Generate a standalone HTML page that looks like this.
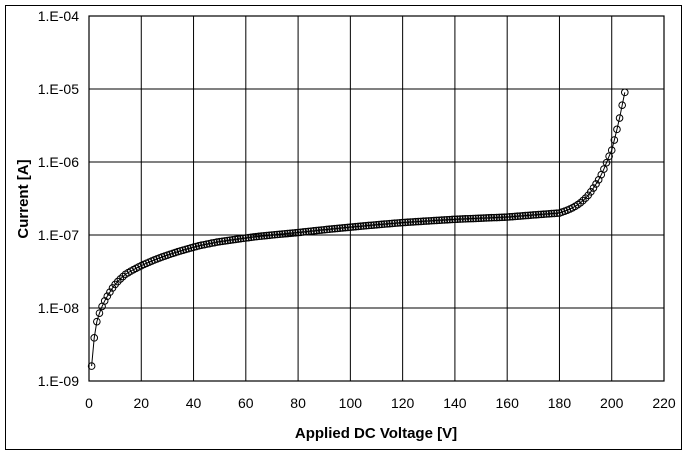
<!DOCTYPE html>
<html><head><meta charset="utf-8"><style>
body{margin:0;background:#fff;}
svg text{font-family:"Liberation Sans",sans-serif;}
</style></head><body>
<svg width="688" height="454">
<rect x="5.5" y="5.5" width="676" height="444" fill="#fff" stroke="#000" stroke-width="1"/>
<g id="grid"></g>
<g id="series"></g>
<rect x="89" y="16" width="575" height="365" fill="none" stroke="#000" stroke-width="1.2"/>
<g id="labels"></g>
<text x="376" y="438" font-size="15" font-weight="bold" text-anchor="middle">Applied DC Voltage [V]</text>
<text x="28" y="199" font-size="15" font-weight="bold" text-anchor="middle" transform="rotate(-90 28 199)">Current [A]</text>
</svg>
<script>
const xTicks=[0,20,40,60,80,100,120,140,160,180,200,220];
const yTickExp=[-4,-5,-6,-7,-8,-9];
const yTickLabels=["1.E-04","1.E-05","1.E-06","1.E-07","1.E-08","1.E-09"];
const voltageStart=1;
// current in nA, one point per volt starting at 1 V
const currentNA=[1.6,3.9,6.5,8.5,10.5,12.5,14.5,16.5,18.8,21,
23,25,27,29,30.5,32,33.5,35,36.5,38,
39.5,41,42.5,44,45.5,47,48.5,50,51.5,53,
54.5,56,57.5,59,60.5,62,63.5,65,66.5,68,
69.5,71,72.5,73.5,75,76,77.5,78.5,80,81,
82,83,84,85,86,87,88,89,90,91,
92,93,94,95,95.8,96.6,97.4,98.2,99,100,
100.8,101.6,102.4,103.2,104,104.8,105.6,106.4,107.2,108,
109,110,111,112,113,114,115,116,117,118,
119,120,121,122,123,124,125,126,127,128,
129,130,131,132,133,134,135,136,137,138,
139,140,141,142,143,144,145,146,147,148,
148.8,149.6,150.4,151.2,152,152.8,153.6,154.4,155.2,156,
156.8,157.6,158.4,159.2,160,160.8,161.6,162.4,163.2,164,
164.6,165.2,165.8,166.4,167,167.6,168.2,168.8,169.4,170,
170.6,171.2,171.8,172.4,173,173.6,174.2,174.8,175.4,176,
177.2,178.4,179.6,180.8,182,183.2,184.4,185.6,186.8,188,
189.2,190.4,191.6,192.8,194,195.2,196.4,197.6,198.8,200,
206,212,219,227,236,247,260,276,296,320,
350,390,440,500,570,670,800,980,1200,1450,
2000,2800,4000,6000,9000];
const NS="http://www.w3.org/2000/svg";
const X0=89,XW=575,XMAX=220,YT=16,YB=381;
function xs(v){return X0+v/XMAX*XW;}
function ys(e){return YT+(-4-e)/5*(YB-YT);}
function mk(t,a,p){const e=document.createElementNS(NS,t);for(const k in a)e.setAttribute(k,a[k]);p.appendChild(e);return e;}
const grid=document.getElementById('grid'),lab=document.getElementById('labels'),ser=document.getElementById('series');
xTicks.forEach(v=>{
 const l=mk('line',{x1:xs(v),x2:xs(v),y1:YT,y2:YB,stroke:'#000','stroke-width':1},grid);
 
 
 const t=mk('text',{x:xs(v),y:YB+27,'font-size':14,'text-anchor':'middle'},lab);t.textContent=v;
 
 
});
yTickExp.forEach((e,i)=>{
 const l=mk('line',{x1:X0,x2:X0+XW,y1:ys(e),y2:ys(e),stroke:'#000','stroke-width':1},grid);
 
 
 const t=mk('text',{x:79,y:ys(e)+5,'font-size':14,'text-anchor':'end'},lab);t.textContent=yTickLabels[i];
 
 
});
const pts=currentNA.map((c,i)=>[xs(voltageStart+i),ys(Math.log10(c*1e-9))]);
const pl=mk('polyline',{points:pts.map(p=>p.join(',')).join(' '),fill:'none',stroke:'#000','stroke-width':1},ser);


pts.forEach(p=>{
 const c=mk('circle',{cx:p[0],cy:p[1],r:3.3,fill:'none',stroke:'#000','stroke-width':1},ser);
 
 
});
</script>
</body></html>
